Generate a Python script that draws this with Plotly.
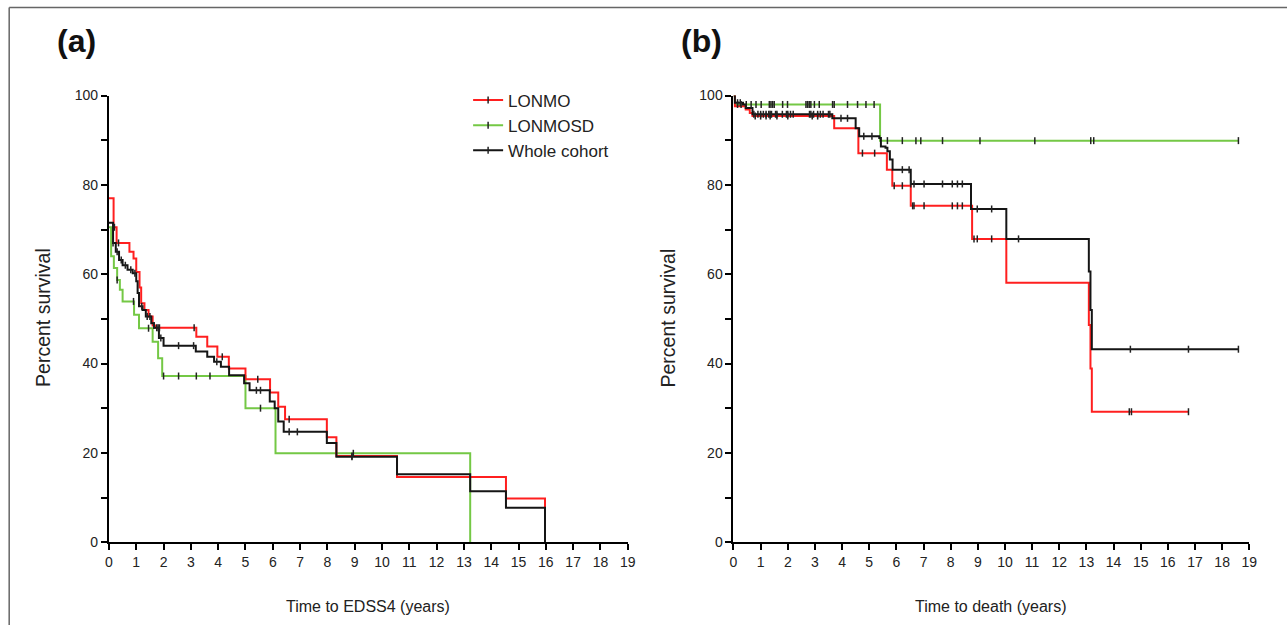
import numpy as np
import plotly.graph_objects as go

# ---------------- Panel (a): Time to EDSS4 ----------------
a_lonmo_t = [0, 0.17, 0.28, 0.75, 0.9, 1.0, 1.12, 1.18, 1.3, 1.45, 1.6, 1.7, 3.2, 3.6, 3.97, 4.39, 5.0, 5.9, 6.2, 6.45, 7.98, 8.33, 10.55, 14.54, 15.97]
a_lonmo_s = [77, 70.5, 67, 65, 63.5, 60.5, 57, 53.5, 52, 50.5, 48.5, 48, 46, 43.8, 41.5, 38.9, 36.5, 33.5, 30.3, 27.5, 23.5, 19.3, 14.6, 9.8, 0]
a_lonmo_cens = [0.2, 0.35, 1.65, 1.75, 1.85, 3.12, 4.15, 5.45, 6.6, 8.9]

a_lonmosd_t = [0, 0.08, 0.18, 0.3, 0.4, 0.5, 0.92, 1.1, 1.6, 1.8, 1.95, 5.0, 6.1, 13.23]
a_lonmosd_s = [70.5, 64, 61.4, 58.7, 56.5, 53.9, 50.9, 47.9, 44.9, 41.2, 37.2, 30, 19.9, 0]
a_lonmosd_cens = [0.3, 0.9, 1.45, 2.0, 2.55, 3.2, 3.7, 5.55, 8.95]

a_whole_t = [0, 0.15, 0.25, 0.37, 0.5, 0.68, 0.87, 1.0, 1.05, 1.1, 1.23, 1.35, 1.55, 1.65, 1.83, 2.0, 3.18, 3.6, 3.85, 4.1, 4.4, 4.95, 5.15, 5.89, 6.07, 6.2, 6.4, 7.98, 8.33, 10.55, 13.23, 14.54, 15.97]
a_whole_s = [71.5, 67, 65, 63.2, 62, 61, 60.2, 58.4, 55.8, 52.8, 52, 50.5, 49, 48, 45.7, 44, 42.7, 41.5, 40.4, 39.3, 37.4, 35.6, 34, 31.5, 30, 27, 24.7, 22.2, 19.1, 15.2, 11.4, 7.7, 0]
a_whole_cens = [0.15, 0.3, 0.45, 0.6, 0.8, 0.95, 1.2, 1.4, 1.5, 1.8, 1.9, 2.55, 3.1, 3.95, 5.4, 5.55, 6.6, 6.9, 8.9]

# ---------------- Panel (b): Time to death ----------------
b_lonmo_t = [0, 0.05, 0.45, 0.6, 0.7, 3.71, 4.6, 5.65, 5.85, 6.53, 8.79, 10.05, 13.09, 13.15, 13.2, 16.76]
b_lonmo_s = [100, 97.6, 96.9, 96.1, 95.4, 92.7, 87.1, 83.4, 79.8, 75.3, 67.9, 58.1, 48.6, 38.9, 29.2, 29.2]
b_lonmo_cens = [0.8, 1.0, 1.2, 1.35, 1.6, 2.0, 2.9, 3.1, 4.75, 5.2, 5.92, 6.22, 6.6, 6.65, 7.02, 8.06, 8.25, 8.43, 8.86, 8.98, 9.51, 14.58, 14.66, 16.76]

b_lonmosd_t = [0, 0.05, 5.4, 18.6]
b_lonmosd_s = [100, 98, 89.9, 89.9]
b_lonmosd_cens = [0.15, 0.28, 0.47, 0.65, 0.83, 1.02, 1.32, 1.38, 1.44, 1.5, 1.81, 1.99, 2.67, 2.73, 2.79, 2.85, 2.98, 3.16, 3.65, 3.71, 4.2, 4.57, 4.88, 5.18, 5.67, 6.22, 6.72, 6.9, 7.7, 9.08, 11.1, 13.16, 13.27, 18.6]

b_whole_t = [0, 0.05, 0.35, 0.45, 0.7, 3.64, 4.5, 4.63, 5.37, 5.43, 5.6, 5.67, 5.76, 5.86, 6.53, 8.75, 10.05, 13.09, 13.15, 13.2, 18.6]
b_whole_s = [100, 98.4, 98, 97.2, 95.8, 94.9, 92.7, 90.9, 90.5, 88.6, 88.3, 87.5, 85.7, 83.4, 80.2, 74.6, 67.9, 60.6, 52, 43.2, 43.2]
b_whole_cens = [0.15, 0.25, 0.75, 0.9, 1.0, 1.1, 1.2, 1.3, 1.35, 1.4, 1.55, 1.6, 1.8, 1.95, 2.0, 2.1, 2.2, 2.8, 2.85, 2.95, 3.1, 3.2, 3.3, 3.5, 3.55, 3.96, 4.2, 4.8, 5.1, 6.22, 6.47, 6.53, 6.65, 7.02, 7.7, 8.06, 8.25, 8.43, 8.98, 9.51, 10.5, 14.62, 16.76, 18.6]

series_names = ["LONMO", "LONMOSD", "Whole cohort"]
colors = {"LONMO": "#ff1f1f", "LONMOSD": "#74c845", "Whole cohort": "#151515"}

x_ticks = list(range(0, 20))
y_ticks = list(range(0, 101, 10))
y_ticklabels = [str(v) if v % 20 == 0 else "" for v in y_ticks]

W, H = 1287, 625


def px(x):
    return ((x - 2.8) / 0.993) / W


def py(y):
    return (H - (y - 8.6) / 0.973) / H


def surv_at(t, s, tc):
    t = np.asarray(t, float)
    s = np.asarray(s, float)
    idx = np.searchsorted(t, np.asarray(tc, float), side="right") - 1
    idx = np.clip(idx, 0, len(s) - 1)
    return s[idx]


fig = go.Figure()

panels = [
    ("x", "y", {"LONMO": (a_lonmo_t, a_lonmo_s, a_lonmo_cens),
                "LONMOSD": (a_lonmosd_t, a_lonmosd_s, a_lonmosd_cens),
                "Whole cohort": (a_whole_t, a_whole_s, a_whole_cens)}),
    ("x2", "y2", {"LONMO": (b_lonmo_t, b_lonmo_s, b_lonmo_cens),
                  "LONMOSD": (b_lonmosd_t, b_lonmosd_s, b_lonmosd_cens),
                  "Whole cohort": (b_whole_t, b_whole_s, b_whole_cens)}),
]

tick_marker = dict(symbol="line-ns", size=5, color="#222", line=dict(color="#222", width=1.5))

for xa, ya, data in panels:
    for name in ["LONMOSD", "LONMO", "Whole cohort"]:
        t, s, c = data[name]
        fig.add_trace(go.Scatter(x=t, y=s, mode="lines", line=dict(color=colors[name], width=2, shape="hv"),
                                 xaxis=xa, yaxis=ya, showlegend=False, hoverinfo="skip", cliponaxis=False))
    for name in ["LONMOSD", "LONMO", "Whole cohort"]:
        t, s, c = data[name]
        fig.add_trace(go.Scatter(x=c, y=surv_at(t, s, c), mode="markers", marker=tick_marker,
                                 xaxis=xa, yaxis=ya, showlegend=False, hoverinfo="skip", cliponaxis=False))

# legend entries
for name in series_names:
    fig.add_trace(go.Scatter(x=[None], y=[None], mode="lines+markers", name=name,
                             line=dict(color=colors[name], width=2),
                             marker=dict(symbol="line-ns", size=5, color="#222", line=dict(color="#222", width=1.5)),
                             xaxis="x", yaxis="y"))

font_family = "Liberation Sans, Arial, sans-serif"

axis_common = dict(showgrid=False, zeroline=False, showline=True, linecolor="black", linewidth=2,
                   ticks="outside", ticklen=6, tickwidth=2, tickcolor="black",
                   tickfont=dict(family=font_family, size=14, color="#222"))

fig.update_layout(
    width=W, height=H,
    margin=dict(l=0, r=0, t=0, b=0),
    paper_bgcolor="white", plot_bgcolor="white",
    font=dict(family=font_family, color="#222"),
    xaxis=dict(domain=[px(108), px(628)], range=[0, 19], tickvals=x_ticks, anchor="y", **axis_common),
    yaxis=dict(domain=[py(542), py(96)], range=[0, 100], tickvals=y_ticks, ticktext=y_ticklabels, anchor="x", **axis_common),
    xaxis2=dict(domain=[px(734), px(1251)], range=[0, 19], tickvals=x_ticks, anchor="y2", **axis_common),
    yaxis2=dict(domain=[py(542), py(96)], range=[0, 100], tickvals=y_ticks, ticktext=y_ticklabels, anchor="x2", **axis_common),
    legend=dict(x=px(468), y=py(83), xanchor="left", yanchor="top", bgcolor="rgba(0,0,0,0)",
                font=dict(family=font_family, size=17, color="#222"), itemwidth=30, tracegroupgap=0),
    showlegend=True,
)

annotations = [
    dict(text="<b>(a)</b>", x=px(75), y=py(42), font=dict(size=32, color="#111")),
    dict(text="<b>(b)</b>", x=px(702), y=py(42), font=dict(size=32, color="#111")),
    dict(text="Percent survival", x=px(42), y=py(318), textangle=-90, font=dict(size=19.5)),
    dict(text="Percent survival", x=px(668), y=py(318), textangle=-90, font=dict(size=19.5)),
    dict(text="Time to EDSS4 (years)", x=px(368), y=py(606), font=dict(size=16)),
    dict(text="Time to death (years)", x=px(992), y=py(606), font=dict(size=16)),
]
for a in annotations:
    a.update(xref="paper", yref="paper", showarrow=False, xanchor="center", yanchor="middle")
    a["font"].setdefault("family", font_family)
    a["font"].setdefault("color", "#222")
fig.update_layout(annotations=annotations)

# outer frame lines (left and top)
fig.add_shape(type="line", xref="paper", yref="paper", x0=px(8), x1=px(8), y0=-0.05, y1=py(8),
              line=dict(color="#666", width=1.5))
fig.add_shape(type="line", xref="paper", yref="paper", x0=px(8), x1=1.05, y0=py(8), y1=py(8),
              line=dict(color="#666", width=1.5))

fig.write_html("out.html", config={"displayModeBar": False},
               post_script="document.body.style.margin='0';document.body.style.overflow='hidden';")
